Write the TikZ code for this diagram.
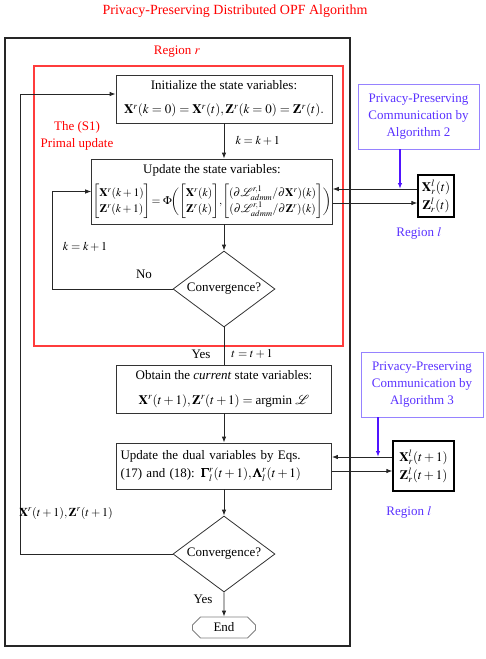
\documentclass[tikz,border=0pt]{standalone}
\usepackage{amsmath}
\usepackage{mathptmx}
\usepackage[no-math]{fontspec}
\setmainfont{Liberation Serif}
\usetikzlibrary{shapes.geometric,shapes.misc,arrows.meta}
\definecolor{regionRed}{RGB}{255,60,60}
\definecolor{commBlue}{RGB}{90,50,255}
\definecolor{commFrame}{RGB}{150,130,255}
\definecolor{arrowBlue}{RGB}{80,20,255}
\newcommand{\varX}{\mathbf{X}}
\newcommand{\varZ}{\mathbf{Z}}
\newcommand{\gradTerm}[1]{(\partial\mathcal{L}^{r,1}_{admm}/\partial#1^{r})(k)}
\begin{document}
\begin{tikzpicture}[x=1pt,y=-1pt,>={Latex[length=6pt,width=4.5pt]},%%
  every node/.style={font=\fontsize{13}{15}\selectfont},%%
  boxStyle/.style={draw=black!80,line width=0.8pt,inner sep=3pt,align=center},%%
  decisionStyle/.style={diamond,draw=black!80,line width=0.8pt,inner sep=0pt,aspect=1.34,minimum width=102pt,minimum height=76pt},%%
  endStyle/.style={chamfered rectangle,chamfered rectangle xsep=4pt,chamfered rectangle ysep=4pt,draw=black!50,line width=0.8pt,minimum width=63pt,minimum height=21pt,inner sep=0pt},%%
  commStyle/.style={draw=commFrame,line width=0.8pt,text=commBlue,align=center,minimum width=121pt,minimum height=65pt,font=\fontsize{13}{17}\selectfont},%%
  varStyle/.style={draw=black,line width=1.3pt,align=center,inner sep=1pt,font=\fontsize{13}{18}\selectfont},%%
  labelStyle/.style={font=\fontsize{12}{14}\selectfont},%%
  lineStyle/.style={black!85,line width=0.8pt},%%
  arrowStyle/.style={lineStyle,->},%%
  tapStyle/.style={->,arrowBlue,line width=1.6pt},%%
  regionStyle/.style={regionRed,line width=1.5pt},%%
  frameStyle/.style={black!85,line width=1.3pt}
]
\useasboundingbox (0,0) rectangle (485,659);
%%
%% Title and the two frames.
\node[text=red,font=\fontsize{14}{16}\selectfont] (title) at (235,11) {Privacy-Preserving Distributed OPF Algorithm};
\draw[frameStyle] (5,38) rectangle (350,646);
\node[text=red] (regionR) at (177,52) {Region $r$};
\draw[regionStyle] (34,66) rectangle (343,346);
\node[text=red,align=center,font=\fontsize{13}{17}\selectfont] (primalLabel) at (77,135.5) {The (S1)\\Primal update};
%%
%% The main column.
\node[boxStyle,minimum width=216pt,minimum height=48pt] (init) at (224,99) {Initialize the state variables:\\[9pt] $\varX^r(k=0)=\varX^r(t),\varZ^r(k=0)=\varZ^r(t).$};
\node[boxStyle,minimum width=238pt,minimum height=65pt,inner sep=1pt] (update) at (212,191.5) {Update the state variables:\\[7pt] {\fontsize{11.5}{13}\selectfont\renewcommand{\arraystretch}{1.2}$\begin{bmatrix}\varX^r(k+1)\\ \varZ^r(k+1)\end{bmatrix}\!=\Phi\!\biggl(\begin{bmatrix}\varX^r(k)\\ \varZ^r(k)\end{bmatrix}\!,\!\begin{bmatrix}\gradTerm{\varX}\\ \gradTerm{\varZ}\end{bmatrix}\biggr)$}};
\node[decisionStyle] (convK) at (224,289) {Convergence?};
\node[boxStyle,minimum width=215pt,minimum height=48pt] (obtain) at (224,389) {Obtain the \textit{current} state variables:\\[10pt] $\varX^r(t+1),\varZ^r(t+1)=\text{argmin }\mathcal{L}$};
\node[boxStyle,align=left,minimum width=215pt,minimum height=46pt,text width=207pt] (dual) at (224,466) {Update the dual variables by Eqs.\\[3pt](17) and (18): $\pmb{\Gamma}_l^r(t+1),\pmb{\Lambda}_l^r(t+1)$};
\node[decisionStyle] (convT) at (224,554) {Convergence?};
\node[endStyle] (finish) at (224,627.5) {End};
%%
%% Region l, twice.
\node[commStyle] (commA) at (418.5,116.5) {Privacy-Preserving\\Communication by\\Algorithm 2};
\node[varStyle,minimum width=36pt,minimum height=42pt] (varA) at (436,196) {$\varX_r^l(t)$\\$\varZ_r^l(t)$};
\node[text=commBlue] (regionLA) at (419,233) {Region $l$};
\node[commStyle,minimum width=122pt] (commB) at (422,384.5) {Privacy-Preserving\\Communication by\\Algorithm 3};
\node[varStyle,minimum width=61pt,minimum height=50pt] (varB) at (423.5,466) {$\varX_r^l(t+1)$\\$\varZ_r^l(t+1)$};
\node[text=commBlue] (regionLB) at (409,512) {Region $l$};
%%
%% Connectors of the main column.
\draw[arrowStyle] (init.south) -- (init.south |- update.north);
\node[labelStyle,anchor=west] (kStepA) at (232,141) {$k=k+1$};
\draw[arrowStyle] (convK.north |- update.south) -- (convK.north);
\coordinate (loopK) at (52,289);
\draw[arrowStyle] (convK.west) -- (loopK) |- (update.west);
\node[labelStyle] (kStepB) at (85,247) {$k=k+1$};
\node (noLabel) at (144,274) {No};
\draw[lineStyle] (convK.south) -- (obtain.north);
\node (yesA) at (201,354) {Yes};
\node[labelStyle] (tStep) at (252,354) {$t=t+1$};
\draw[arrowStyle] (obtain) -- (dual);
\draw[arrowStyle] (dual) -- (convT);
\draw[arrowStyle] (convT) -- (finish);
\node (yesB) at (203,599) {Yes};
\coordinate (loopT) at (20,554);
\draw[arrowStyle] (convT.west) -- (loopT) |- ([yshift=5pt]init.west);
\node[labelStyle] (xzLabel) at (66,513) {$\varX^r(t+1),\varZ^r(t+1)$};
%%
%% Exchange with region l.
\draw[arrowStyle] ([yshift=7pt]varA.west) -- ([yshift=7pt]varA.west -| update.east);
\draw[arrowStyle] ([yshift=-7pt]varA.west -| update.east) -- ([yshift=-7pt]varA.west);
\coordinate (tapA) at (400,189);
\draw[tapStyle] (commA.south -| tapA) -- (tapA);
\draw[arrowStyle] ([yshift=9pt]varB.west) -- ([yshift=9pt]varB.west -| dual.east);
\draw[arrowStyle] ([yshift=-5pt]varB.west -| dual.east) -- ([yshift=-5pt]varB.west);
\coordinate (tapB) at (378,457);
\draw[tapStyle] (commB.south -| tapB) -- (tapB);
\end{tikzpicture}
\end{document}
